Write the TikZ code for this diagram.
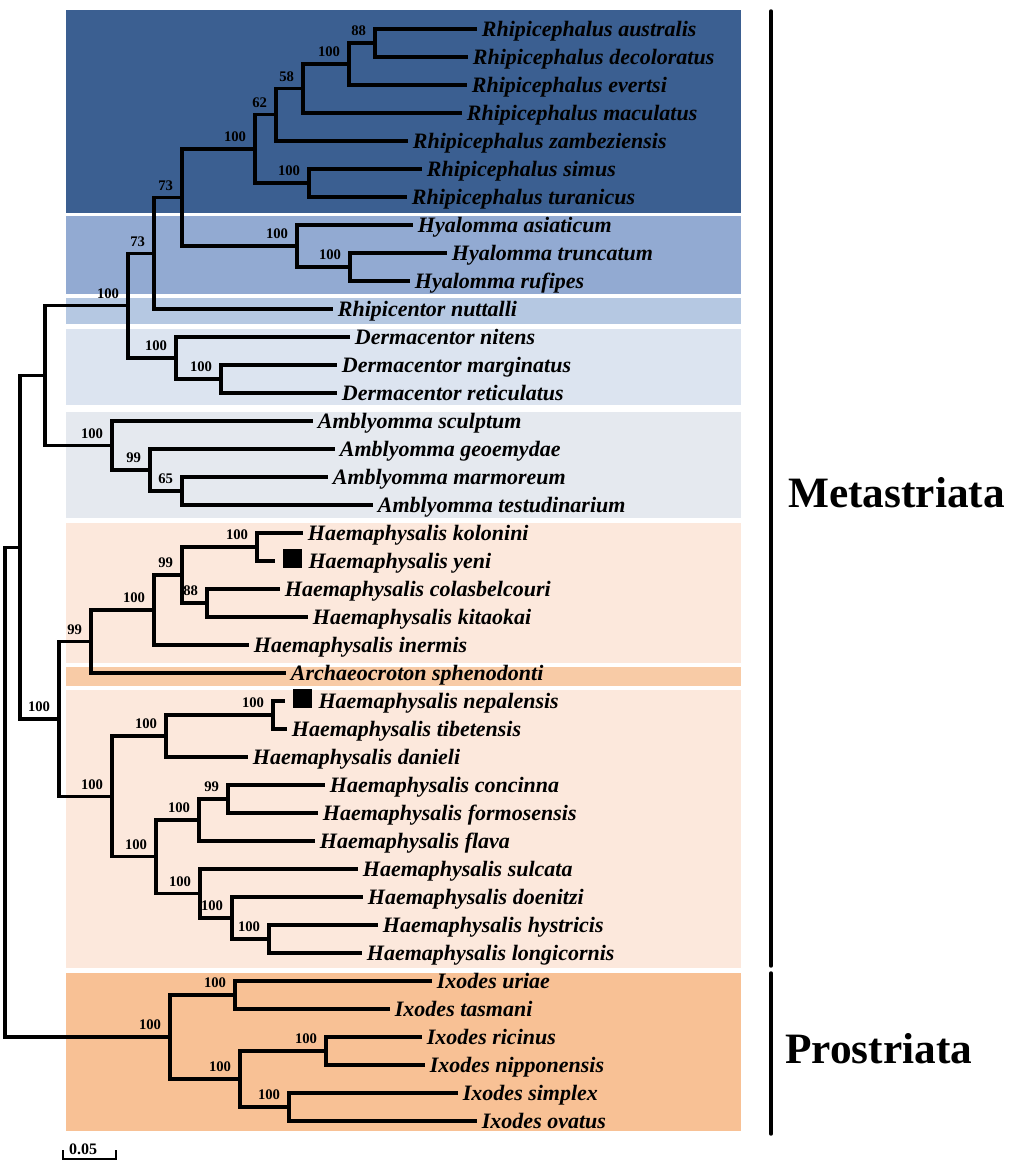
\documentclass[tikz,border=0pt]{standalone}
\usepackage{fontspec}
\setmainfont{Liberation Serif}
\usetikzlibrary{calc}
\definecolor{rhipi}{HTML}{3B5F91}
\definecolor{hyal}{HTML}{92AAD2}
\definecolor{rcent}{HTML}{B5C8E2}
\definecolor{derm}{HTML}{DCE4F0}
\definecolor{ambly}{HTML}{E5E9EF}
\definecolor{haem}{HTML}{FCE8DC}
\definecolor{archa}{HTML}{F8CBA6}
\definecolor{ixod}{HTML}{F8C195}
\tikzset{
branch/.style={line width=2.4pt},
leaf/.style={anchor=west, inner xsep=3.5pt, inner ysep=0pt, text height=10.9pt,
	text depth=0pt, font=\bfseries\itshape\fontsize{16.5}{18}\selectfont},
bs/.style={inner xsep=6.5pt, inner ysep=5pt, font=\bfseries\fontsize{11}{12}\selectfont},
clade/.style={anchor=base west, inner sep=0pt, font=\bfseries\fontsize{32.5}{36}\selectfont},
bracket/.style={line width=2.6pt, line cap=round}
}
\newcommand{\tagsq}{\hspace{2pt}\rule{14.5pt}{14.5pt}\hspace{5pt}}

\begin{document}
\begin{tikzpicture}[x=0.75pt, y=-0.75pt]
	\useasboundingbox (0,0) rectangle (1021,1163);
	\foreach \ya/\yb/\col in {10/213/rhipi, 216/294/hyal, 298/324/rcent, 329/405/derm,
		412/518/ambly, 523/663/haem, 667/686/archa, 690/968/haem, 973/1131/ixod}
		\fill[\col] (66,\ya) rectangle (741,\yb);

	\foreach \x/\n/\t [count=\i from 0] in {
		477/australis/Rhipicephalus australis, 468/decoloratus/Rhipicephalus decoloratus,
		467/evertsi/Rhipicephalus evertsi, 462/maculatus/Rhipicephalus maculatus,
		408/zambeziensis/Rhipicephalus zambeziensis, 422/simus/Rhipicephalus simus,
		407/turanicus/Rhipicephalus turanicus, 413/asiaticum/Hyalomma asiaticum,
		447/truncatum/Hyalomma truncatum, 410/rufipes/Hyalomma rufipes,
		333/nuttalli/Rhipicentor nuttalli, 350/nitens/Dermacentor nitens,
		337/marginatus/Dermacentor marginatus, 337/reticulatus/Dermacentor reticulatus,
		313/sculptum/Amblyomma sculptum, 335/geoemydae/Amblyomma geoemydae,
		328/marmoreum/Amblyomma marmoreum, 373/testudinarium/Amblyomma testudinarium,
		303/kolonini/Haemaphysalis kolonini, 275/yeni/\tagsq Haemaphysalis yeni,
		280/colasbelcouri/Haemaphysalis colasbelcouri, 308/kitaokai/Haemaphysalis kitaokai,
		249/inermis/Haemaphysalis inermis, 286/sphenodonti/Archaeocroton sphenodonti,
		285/nepalensis/\tagsq Haemaphysalis nepalensis, 287/tibetensis/Haemaphysalis tibetensis,
		248/danieli/Haemaphysalis danieli, 325/concinna/Haemaphysalis concinna,
		318/formosensis/Haemaphysalis formosensis, 315/flava/Haemaphysalis flava,
		358/sulcata/Haemaphysalis sulcata, 363/doenitzi/Haemaphysalis doenitzi,
		378/hystricis/Haemaphysalis hystricis, 362/longicornis/Haemaphysalis longicornis,
		432/uriae/Ixodes uriae, 390/tasmani/Ixodes tasmani,
		422/ricinus/Ixodes ricinus, 425/nipponensis/Ixodes nipponensis,
		458/simplex/Ixodes simplex, 477/ovatus/Ixodes ovatus}
		\node[leaf] (\n) at (\x,{29+28*\i}) {\t};

	\coordinate (root) at (5,792);
	\coordinate (A) at (20,547.3);
	\coordinate (B) at (45,375.6);
	\coordinate[label={[bs]above left:100}] (C) at (128,305.6);
	\coordinate[label={[bs]above left:73}] (D) at (154,253.2);
	\coordinate[label={[bs]above left:73}] (E) at (182,197.4);
	\coordinate[label={[bs]above left:100}] (F) at (255,148.9);
	\coordinate[label={[bs]above left:62}] (G) at (276,114.75);
	\coordinate[label={[bs]above left:58}] (G2) at (303,88.5);
	\coordinate[label={[bs]above left:100}] (G3) at (349,64);
	\coordinate[label={[bs]above left:88}] (G4) at (375,43);
	\coordinate[label={[bs]above left:100}] (RS) at (309,183);
	\coordinate[label={[bs]above left:100}] (Hy) at (297,246);
	\coordinate[label={[bs]above left:100}] (Hy2) at (350,267);
	\coordinate[label={[bs]above left:100}] (De) at (176,358);
	\coordinate[label={[bs]above left:100}] (De2) at (221,379);
	\coordinate[label={[bs]above left:100}] (Am) at (112,445.5);
	\coordinate[label={[bs]above left:99}] (Am2) at (150,470);
	\coordinate[label={[bs]above left:65}] (Am3) at (182,491);
	\coordinate[label={[bs]above left:100}] (H) at (59,719);
	\coordinate[label={[bs]above left:99}] (H1) at (91,641.5);
	\coordinate[label={[bs]above left:100}] (H1a) at (154,610);
	\coordinate[label={[bs]above left:99}] (H1b) at (182,575);
	\coordinate[label={[bs]above left:100}] (H1c) at (257,547);
	\coordinate[label={[bs]above left:88}] (H1d) at (207,603);
	\coordinate[label={[bs]above left:100}] (H2) at (112,796.4);
	\coordinate[label={[bs]above left:100}] (H2a) at (166,736);
	\coordinate[label={[bs]above left:100}] (H2c) at (273,715);
	\coordinate[label={[bs]above left:100}] (H2b) at (156,856.75);
	\coordinate[label={[bs]above left:100}] (H2d) at (199,820);
	\coordinate[label={[bs]above left:99}] (H2f) at (228,799);
	\coordinate[label={[bs]above left:100}] (H2e) at (200,893.5);
	\coordinate[label={[bs]above left:100}] (H2g) at (232,918);
	\coordinate[label={[bs]above left:100}] (H2h) at (269,939);
	\coordinate[label={[bs]above left:100}] (Ix) at (170,1037);
	\coordinate[label={[bs]above left:100}] (Ix1) at (235,995);
	\coordinate[label={[bs]above left:100}] (Ix2) at (240,1079);
	\coordinate[label={[bs]above left:100}] (Ix3) at (326,1051);
	\coordinate[label={[bs]above left:100}] (Ix4) at (289,1107);

	\foreach \p/\c in {root/A, root/Ix, A/B, A/H, B/C, B/Am, C/D, C/De, D/E, D/nuttalli,
		E/F, E/Hy, F/G, F/RS, G/G2, G/zambeziensis, G2/G3, G2/maculatus, G3/G4, G3/evertsi,
		G4/australis, G4/decoloratus, RS/simus, RS/turanicus, Hy/asiaticum, Hy/Hy2,
		Hy2/truncatum, Hy2/rufipes, De/nitens, De/De2, De2/marginatus, De2/reticulatus,
		Am/sculptum, Am/Am2, Am2/geoemydae, Am2/Am3, Am3/marmoreum, Am3/testudinarium,
		H/H1, H/H2, H1/H1a, H1/sphenodonti, H1a/H1b, H1a/inermis, H1b/H1c, H1b/H1d,
		H1c/kolonini, H1c/yeni, H1d/colasbelcouri, H1d/kitaokai, H2/H2a, H2/H2b,
		H2a/H2c, H2a/danieli, H2c/nepalensis, H2c/tibetensis, H2b/H2d, H2b/H2e,
		H2d/H2f, H2d/flava, H2f/concinna, H2f/formosensis, H2e/sulcata, H2e/H2g,
		H2g/doenitzi, H2g/H2h, H2h/hystricis, H2h/longicornis, Ix/Ix1, Ix/Ix2,
		Ix1/uriae, Ix1/tasmani, Ix2/Ix3, Ix2/Ix4, Ix3/ricinus, Ix3/nipponensis,
		Ix4/simplex, Ix4/ovatus}
		\draw[branch] (\p) |- (\c);

	\coordinate (mtop) at (771,11);
	\coordinate (mbot) at (771,966);
	\coordinate (ptop) at (771,973);
	\coordinate (pbot) at (771,1134);
	\draw[bracket] (mtop) -- (mbot);
	\draw[bracket] (ptop) -- (pbot);
	\node[clade] (meta) at (788,507) {Metastriata};
	\node[clade] (pro) at (785,1063) {Prostriata};

	\coordinate (sb0) at (63,1159);
	\coordinate (sb1) at (116,1159);
	\draw[line width=1.6pt] ($(sb0)+(0,-9)$) -- (sb0) -- (sb1) -- ++(0,-9);
	\node[anchor=base, inner sep=0pt, font=\bfseries\fontsize{12}{13}\selectfont] (sblab) at (83,1154) {0.05};
\end{tikzpicture}
\end{document}
